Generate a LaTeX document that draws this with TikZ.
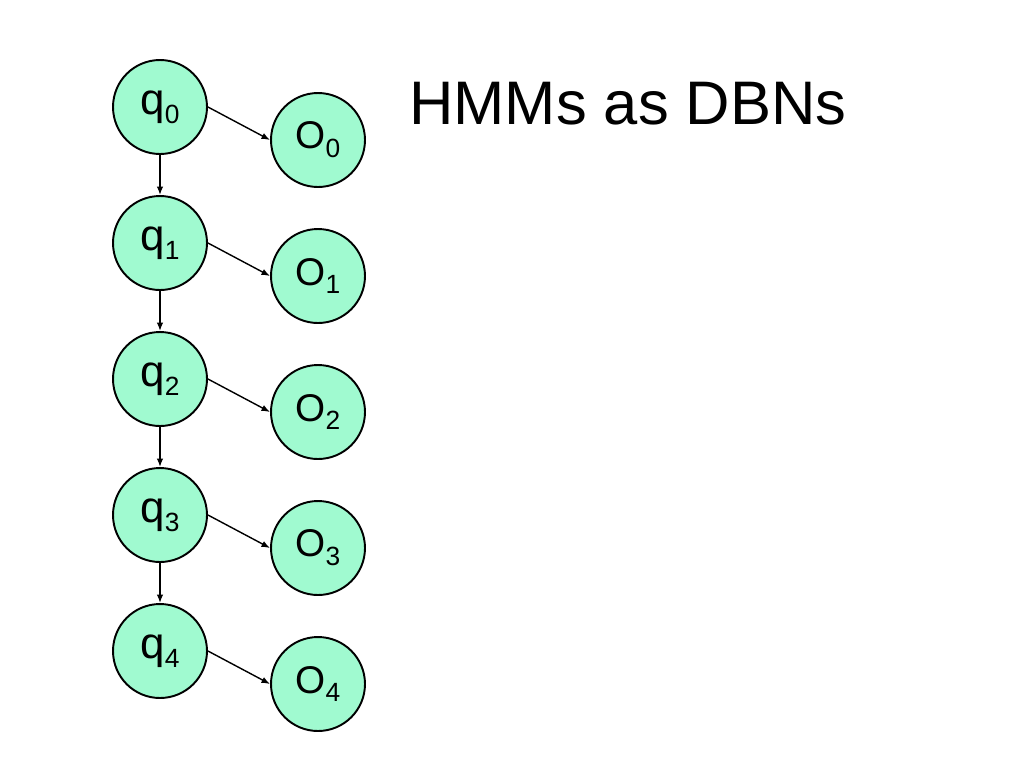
\documentclass[tikz,border=0pt]{standalone}
\usepackage{fontspec}
\setmainfont{Liberation Sans}
\usetikzlibrary{arrows.meta}
\definecolor{statefill}{RGB}{160,250,208}
\newcommand{\varlbl}[3]{{\fontsize{#3}{#3}\selectfont #1}{\fontsize{15}{15}\selectfont\raisebox{-5pt}{#2}}}
\tikzset{
    state/.style={circle, draw, line width=1.1pt, fill=statefill, minimum size=1.88cm, inner sep=0pt},
    link/.style={-{Latex[length=0.17cm,width=0.13cm]}, line width=0.8pt}
}
\begin{document}
\begin{tikzpicture}[x=0.02cm, y=-0.02cm]
        \useasboundingbox (0,0) rectangle (1024,768);
        \node[anchor=base west, font=\fontsize{35}{35}\selectfont] (title) at (403,124) {HMMs as DBNs};
        \foreach \i in {0,...,4} {
                \node[state] (q\i) at (160,{107+136*\i}) {\varlbl{q}{\i}{25}};
                \node[state] (o\i) at (318,{140+136*\i}) {\varlbl{O}{\i}{22}};
                \draw[link] (q\i.east) -- (o\i.west);
            }
        \foreach \i [evaluate=\i as \j using int(\i+1)] in {0,...,3} {
                \draw[link] (q\i.south) -- (q\j.north);
            }
    \end{tikzpicture}
\end{document}
